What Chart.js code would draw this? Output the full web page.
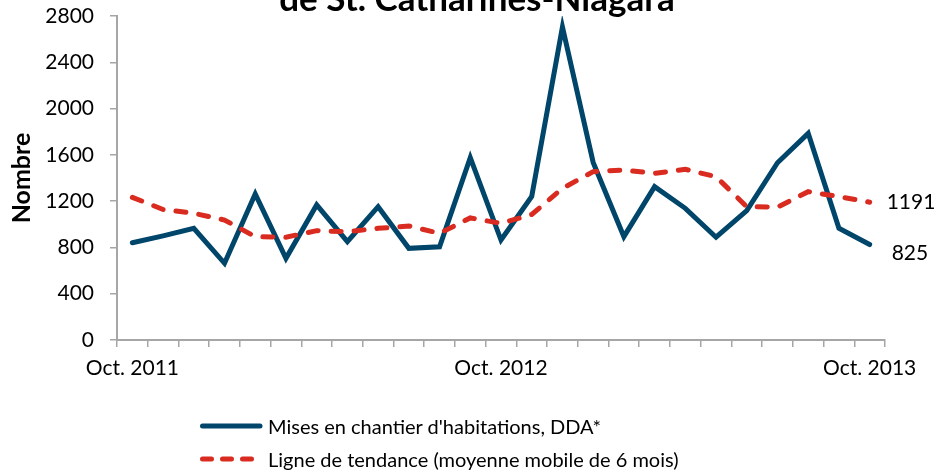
<!DOCTYPE html>
<html>
<head>
<meta charset="utf-8">
<script src="https://cdn.jsdelivr.net/npm/chart.js@4"></script>
<style>
  html, body { margin:0; padding:0; background:#fff; }
  #wrap { position:relative; width:944px; height:473px; overflow:hidden; font-family:Lato, sans-serif; }
  #chart { position:absolute; left:0; top:0; }
  .title { position:absolute; left:0; width:954px; top:-24px; text-align:center; font-weight:700; font-size:35px; line-height:42px; color:#000; }
  .legend { position:absolute; left:200px; top:409px; font-size:20px; color:#000; }
  .legend-row { display:flex; align-items:center; height:33px; }
  .legend-row svg { width:68px; height:10px; flex:none; }
</style>
</head>
<body>
<div id="wrap">
  <canvas id="chart" width="944" height="473"></canvas>
  <div class="title">de St. Catharines-Niagara</div>
  <div class="legend">
    <div class="legend-row">
      <svg viewBox="0 0 68 10"><line x1="2.5" y1="5" x2="60" y2="5" stroke="#00456A" stroke-width="5" stroke-linecap="round"/></svg>
      <span>Mises en chantier d'habitations, DDA*</span>
    </div>
    <div class="legend-row">
      <svg viewBox="0 0 68 10"><line x1="2.5" y1="5" x2="54" y2="5" stroke="#D92B20" stroke-width="5" stroke-linecap="round" stroke-dasharray="9 11"/></svg>
      <span>Ligne de tendance (moyenne mobile de 6 mois)</span>
    </div>
  </div>
</div>
<script>
const MONTHS = [
  'Oct. 2011','Nov. 2011','Déc. 2011','Janv. 2012','Févr. 2012','Mars 2012','Avr. 2012','Mai 2012','Juin 2012',
  'Juil. 2012','Août 2012','Sept. 2012','Oct. 2012','Nov. 2012','Déc. 2012','Janv. 2013','Févr. 2013','Mars 2013',
  'Avr. 2013','Mai 2013','Juin 2013','Juil. 2013','Août 2013','Sept. 2013','Oct. 2013'
];
const TICK_LABELS = ['Oct. 2011','Oct. 2012','Oct. 2013'];

const STARTS = [840,900,965,663,1262,706,1167,850,1152,792,806,1575,864,1240,2705,1535,893,1325,1138,888,1118,1532,1786,965,825];
const TREND  = [1233,1128,1095,1037,893,888,945,936,965,985,922,1055,1008,1085,1310,1455,1469,1440,1475,1411,1152,1148,1282,1239,1191];

const AXIS_GREY = '#A6A6A6';
const FONT = 'Lato';

const endLabels = {
  id:'endLabels',
  afterDatasetsDraw(chart){
    const ctx = chart.ctx;
    const offsets = [{dx:22, dy:9}, {dx:17, dy:0}];
    ctx.save();
    ctx.font = '21px ' + FONT;
    ctx.fillStyle = '#000';
    ctx.textBaseline = 'middle';
    ctx.textAlign = 'left';
    chart.data.datasets.forEach((ds, i) => {
      const meta = chart.getDatasetMeta(i);
      const pt = meta.data[meta.data.length - 1];
      ctx.fillText(String(ds.data[ds.data.length - 1]), pt.x + offsets[i].dx, pt.y + offsets[i].dy);
    });
    ctx.restore();
  }
};

new Chart(document.getElementById('chart'), {
  type:'line',
  data:{
    labels:MONTHS,
    datasets:[
      { label:"Mises en chantier d'habitations, DDA*", data:STARTS, borderColor:'#00456A', borderWidth:5,
        borderJoinStyle:'miter', borderCapStyle:'round', pointRadius:0, tension:0, order:1 },
      { label:'Ligne de tendance (moyenne mobile de 6 mois)', data:TREND, borderColor:'#D92B20', borderWidth:5,
        borderDash:[10,13], borderCapStyle:'round', pointRadius:0, tension:0, order:0 }
    ]
  },
  options:{
    responsive:false,
    animation:false,
    layout:{ padding:{ left:0, right:59, top:16, bottom:83 } },
    plugins:{ legend:{display:false}, tooltip:{enabled:false}, title:{display:false} },
    scales:{
      x:{
        offset:true,
        grid:{ offset:true, drawOnChartArea:false, tickLength:7, color:AXIS_GREY, lineWidth:1.5 },
        border:{ color:AXIS_GREY, width:2 },
        ticks:{ autoSkip:false, maxRotation:0, padding:9, color:'#000', font:{family:FONT, size:21},
          callback(v, i){ const l = MONTHS[i]; return TICK_LABELS.includes(l) ? l : ''; } },
        afterFit(s){ s.height = 50; s.paddingLeft = 0; s.paddingRight = 0; }
      },
      y:{
        min:0, max:2800,
        grid:{ drawOnChartArea:false, tickLength:7, color:AXIS_GREY, lineWidth:1.5 },
        border:{ color:AXIS_GREY, width:2 },
        ticks:{ stepSize:400, padding:16, color:'#000', font:{family:FONT, size:21}, callback:v => String(v) },
        title:{ display:true, text:'Nombre', color:'#000', font:{family:FONT, size:25, weight:'bold'}, padding:{top:7, bottom:0} },
        afterFit(s){ s.width = 117; s.paddingTop = 0; s.paddingBottom = 0; }
      }
    }
  },
  plugins:[endLabels]
});
</script>
</body>
</html>
